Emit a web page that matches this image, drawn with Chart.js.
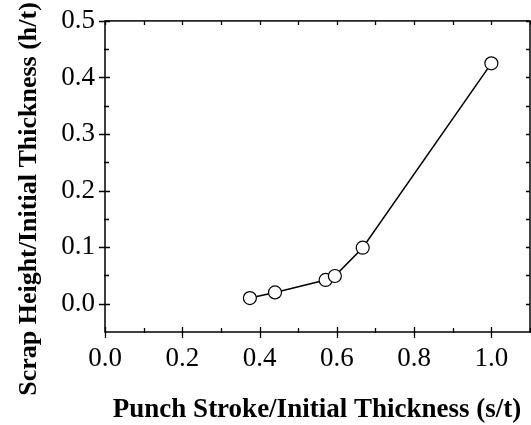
<!DOCTYPE html>
<html>
<head>
<meta charset="utf-8">
<script src="https://cdn.jsdelivr.net/npm/chart.js@4/dist/chart.umd.min.js"></script>
<style>
  html, body { margin: 0; padding: 0; background: #fff; }
  #wrap { width: 531px; height: 425px; }
</style>
</head>
<body>
<div id="wrap"><canvas id="scrapChart" width="531" height="425"></canvas></div>
<script>
// datos
const strokeRatio = [0.375, 0.44, 0.571, 0.595, 0.667, 1.0];
const heightRatio = [0.010, 0.020, 0.042, 0.049, 0.099, 0.425];
const xTickValues = [0.0, 0.2, 0.4, 0.6, 0.8, 1.0];
const yTickValues = [0.0, 0.1, 0.2, 0.3, 0.4, 0.5];
const xTitle = 'Punch Stroke/Initial Thickness (s/t)';
const yTitle = 'Scrap Height/Initial Thickness (h/t)';

const serif = "'Liberation Serif', 'Times New Roman', serif";

// marco con ticks que cruzan los ejes + titulos
const frameAndTitles = {
  id: 'frameAndTitles',
  afterDraw(chart) {
    const ctx = chart.ctx;
    const a = chart.chartArea;
    const xs = chart.scales.x, ys = chart.scales.y;
    ctx.save();
    ctx.strokeStyle = '#000';
    ctx.lineWidth = 1.5;
    ctx.strokeRect(a.left, a.top, a.right - a.left, a.bottom - a.top);
    ctx.lineWidth = 1.3;
    ctx.beginPath();
    for (let v = 0; v <= 1.1001; v += 0.1) {
      const px = Math.round(xs.getPixelForValue(v)) + 0.5;
      const major = Math.round(v * 10) % 2 === 0;
      if (major) {
        ctx.moveTo(px, a.bottom - 5); ctx.lineTo(px, a.bottom + 6);
      } else {
        ctx.moveTo(px, a.bottom - 4); ctx.lineTo(px, a.bottom + 1);
      }
      ctx.moveTo(px, a.top); ctx.lineTo(px, a.top + 4);
    }
    for (let v = 0; v <= 0.5001; v += 0.05) {
      const py = Math.round(ys.getPixelForValue(v)) + 0.5;
      const major = Math.round(v * 20) % 2 === 0;
      if (major) {
        ctx.moveTo(a.left - 6, py); ctx.lineTo(a.left + 5, py);
      } else {
        ctx.moveTo(a.left - 1, py); ctx.lineTo(a.left + 4, py);
      }
      ctx.moveTo(a.right, py); ctx.lineTo(a.right - 4, py);
    }
    ctx.stroke();

    ctx.fillStyle = '#000';
    ctx.textAlign = 'center';
    ctx.textBaseline = 'alphabetic';
    ctx.font = 'bold 27px ' + serif;
    ctx.fillText(xTitle, 317, 417);
    ctx.font = 'bold 26px ' + serif;
    ctx.translate(36, 199);
    ctx.rotate(-Math.PI / 2);
    ctx.fillText(yTitle, 0, 0);
    ctx.restore();
  }
};

const ctx = document.getElementById('scrapChart').getContext('2d');
new Chart(ctx, {
  type: 'scatter',
  data: {
    datasets: [{
      data: strokeRatio.map((x, i) => ({ x: x, y: heightRatio[i] })),
      showLine: true,
      borderColor: '#000',
      borderWidth: 1.5,
      pointRadius: 6.5,
      pointBackgroundColor: '#fff',
      pointBorderColor: '#000',
      pointBorderWidth: 1.2
    }]
  },
  plugins: [frameAndTitles],
  options: {
    responsive: false,
    animation: false,
    layout: { autoPadding: false, padding: { top: 14, right: 1, left: 0, bottom: 0 } },
    plugins: { legend: { display: false }, tooltip: { enabled: false } },
    scales: {
      x: {
        type: 'linear',
        min: 0, max: 1.1,
        afterFit(scale) { scale.height = 93; },
        afterBuildTicks(scale) { scale.ticks = xTickValues.map(v => ({ value: v })); },
        grid: { display: false },
        border: { display: false },
        ticks: {
          color: '#000',
          padding: 3,
          font: { family: serif, size: 27 },
          callback: v => v.toFixed(1)
        }
      },
      y: {
        type: 'linear',
        min: -0.05, max: 0.5,
        afterFit(scale) { scale.width = 105; },
        afterBuildTicks(scale) { scale.ticks = yTickValues.map(v => ({ value: v })); },
        grid: { display: false },
        border: { display: false },
        ticks: {
          color: '#000',
          padding: 2,
          font: { family: serif, size: 27, lineHeight: 1.4 },
          callback: v => v.toFixed(1)
        }
      }
    }
  }
});
</script>
</body>
</html>
